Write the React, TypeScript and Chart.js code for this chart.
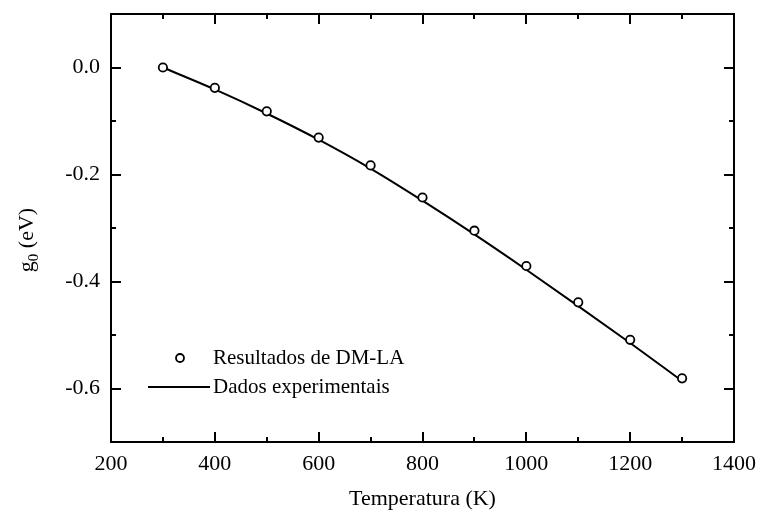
import React, { useEffect, useRef } from "react";
import { Chart, registerables } from "chart.js";

Chart.register(...registerables);

const temperatures = [300, 400, 500, 600, 700, 800, 900, 1000, 1100, 1200, 1300];
const dmlaValues = [0.0, -0.038, -0.082, -0.131, -0.183, -0.243, -0.305, -0.371, -0.439, -0.509, -0.581];
const experimentalValues = [0.0, -0.041, -0.086, -0.135, -0.189, -0.249, -0.312, -0.378, -0.446, -0.515, -0.586];
const xTickValues = [200, 400, 600, 800, 1000, 1200, 1400];
const yTickValues = [-0.6, -0.4, -0.2, 0.0];
const seriesLabels = ["Resultados de DM-LA", "Dados experimentais"];
const xTitle = "Temperatura (K)";
const yTitleMain = "g";
const yTitleSub = "0";
const yTitleRest = " (eV)";

const FONT = "'Liberation Serif', 'Times New Roman', serif";
const FS = 22;

const innerTicks = {
  id: "innerTicks",
  afterDatasetsDraw(chart: any) {
    const { ctx, chartArea: a, scales } = chart;
    const xs = scales.x;
    const ys = scales.y;
    ctx.save();
    ctx.strokeStyle = "#000";
    ctx.lineWidth = 2;
    for (let v = 200; v <= 1400; v += 100) {
      const major = v % 200 === 0;
      const len = major ? 10 : 5;
      const px = Math.round(xs.getPixelForValue(v));
      ctx.beginPath();
      ctx.moveTo(px, a.bottom);
      ctx.lineTo(px, a.bottom - len);
      ctx.moveTo(px, a.top);
      ctx.lineTo(px, a.top + len);
      ctx.stroke();
    }
    for (let i = -7; i <= 1; i++) {
      const v = i / 10;
      const major = i % 2 === 0;
      const len = major ? 10 : 5;
      const py = Math.round(ys.getPixelForValue(v));
      ctx.beginPath();
      ctx.moveTo(a.left, py);
      ctx.lineTo(a.left + len, py);
      ctx.moveTo(a.right, py);
      ctx.lineTo(a.right - len, py);
      ctx.stroke();
    }
    ctx.lineWidth = 2;
    ctx.strokeRect(a.left, a.top, a.right - a.left, a.bottom - a.top);
    ctx.restore();
  },
};

const customLegend = {
  id: "customLegend",
  afterDraw(chart: any) {
    const { ctx, chartArea: a } = chart;
    ctx.save();
    ctx.font = `21px ${FONT}`;
    ctx.fillStyle = "#000";
    ctx.textBaseline = "middle";
    ctx.textAlign = "left";
    const row1 = a.top + 344;
    const row2 = a.top + 373;
    ctx.beginPath();
    ctx.arc(a.left + 69, row1, 4, 0, Math.PI * 2);
    ctx.fillStyle = "#fff";
    ctx.fill();
    ctx.lineWidth = 1.8;
    ctx.strokeStyle = "#000";
    ctx.stroke();
    ctx.fillStyle = "#000";
    ctx.fillText(seriesLabels[0], a.left + 102, row1);
    ctx.beginPath();
    ctx.moveTo(a.left + 37, row2);
    ctx.lineTo(a.left + 99, row2);
    ctx.lineWidth = 2;
    ctx.stroke();
    ctx.fillText(seriesLabels[1], a.left + 102, row2);

    // y title
    const cx = 27;
    const cy = (a.top + a.bottom) / 2 + 12;
    ctx.translate(cx, cy);
    ctx.rotate(-Math.PI / 2);
    ctx.font = `${FS}px ${FONT}`;
    const wMain = ctx.measureText(yTitleMain).width;
    const wRest = ctx.measureText(yTitleRest).width;
    ctx.font = `15px ${FONT}`;
    const wSub = ctx.measureText(yTitleSub).width;
    const total = wMain + wSub + wRest;
    let x = -total / 2;
    ctx.textBaseline = "alphabetic";
    ctx.font = `${FS}px ${FONT}`;
    ctx.fillText(yTitleMain, x, 6);
    x += wMain;
    ctx.font = `15px ${FONT}`;
    ctx.fillText(yTitleSub, x, 11);
    x += wSub;
    ctx.font = `${FS}px ${FONT}`;
    ctx.fillText(yTitleRest, x, 6);
    ctx.restore();
  },
};

export default function App() {
  const canvasRef = useRef<HTMLCanvasElement | null>(null);

  useEffect(() => {
    document.body.style.margin = "0";
    const canvas = canvasRef.current;
    if (!canvas) return;
    const dmlaData = temperatures.map((t, i) => ({ x: t, y: dmlaValues[i] }));
    const expData = temperatures.map((t, i) => ({ x: t, y: experimentalValues[i] }));
    const chart = new Chart(canvas, {
      type: "scatter",
      data: {
        datasets: [
          {
            label: seriesLabels[1],
            data: expData,
            showLine: true,
            borderColor: "#000",
            borderWidth: 2,
            pointRadius: 0,
            cubicInterpolationMode: "monotone",
            order: 2,
          },
          {
            label: seriesLabels[0],
            data: dmlaData,
            showLine: false,
            pointStyle: "circle",
            pointRadius: 4.2,
            pointBorderWidth: 1.8,
            pointBorderColor: "#000",
            pointBackgroundColor: "#fff",
            order: 1,
          },
        ],
      },
      options: {
        animation: false,
        responsive: false,
        maintainAspectRatio: false,
        layout: { padding: { left: 0, right: 26, top: 14, bottom: 0 } },
        plugins: {
          legend: { display: false },
          tooltip: { enabled: false },
        },
        scales: {
          x: {
            type: "linear",
            min: 200,
            max: 1400,
            grid: { display: false, drawTicks: false },
            border: { display: false },
            afterBuildTicks(scale: any) {
              scale.ticks = xTickValues.map((v) => ({ value: v }));
            },
            ticks: {
              color: "#000",
              font: { family: FONT, size: FS },
              padding: 9,
              maxRotation: 0,
              autoSkip: false,
              callback: (v: any) => String(v),
            },
            title: {
              display: true,
              text: xTitle,
              color: "#000",
              font: { family: FONT, size: FS },
              padding: { top: 6, bottom: 0 },
            },
            afterFit(scale: any) {
              scale.height = 70;
              scale.paddingLeft = 0;
              scale.paddingRight = 0;
            },
          },
          y: {
            type: "linear",
            min: -0.7,
            max: 0.1,
            grid: { display: false, drawTicks: false },
            border: { display: false },
            afterBuildTicks(scale: any) {
              scale.ticks = yTickValues.map((v) => ({ value: v }));
            },
            ticks: {
              color: "#000",
              font: { family: FONT, size: FS },
              padding: 11,
              autoSkip: false,
              callback: (v: any) => {
                const n = Number(v);
                if (Math.abs(n) < 1e-9) return "0.0";
                return n.toFixed(1);
              },
            },
            afterFit(scale: any) {
              scale.width = 111;
              scale.paddingTop = 0;
              scale.paddingBottom = 0;
            },
          },
        },
      },
      plugins: [innerTicks, customLegend],
    } as any);
    return () => chart.destroy();
  }, []);

  return (
    <div style={{ width: 760, height: 512 }}>
      <canvas ref={canvasRef} width={760} height={512} style={{ width: 760, height: 512, display: "block" }} />
    </div>
  );
}
